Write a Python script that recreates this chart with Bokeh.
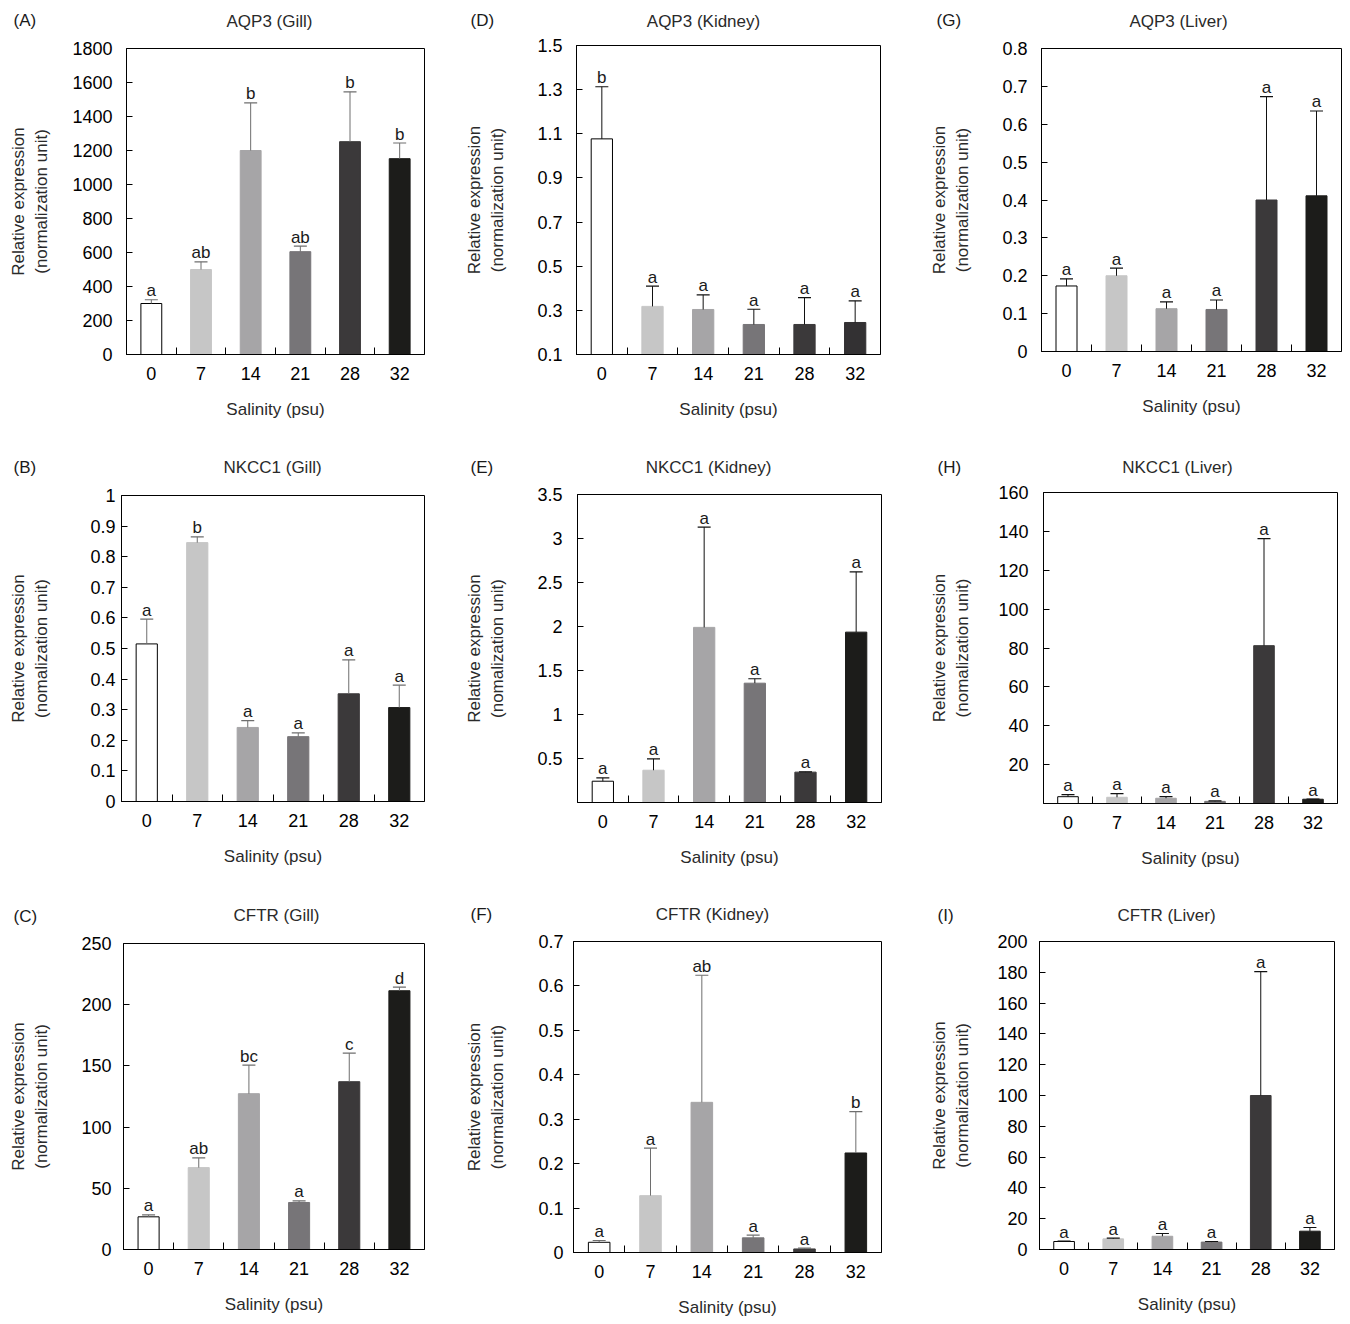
from bokeh.plotting import figure
from bokeh.layouts import row, column
from bokeh.models import (ColumnDataSource, Range1d, FixedTicker, Label, Whisker,
                          TeeHead, CustomJSTickFormatter)
from bokeh.embed import file_html
from bokeh.resources import INLINE
from bokeh.core.properties import value

# ---------------- data ----------------
salinity = ["0", "7", "14", "21", "28", "32"]

aqp3_gill_mean = [300, 500, 1200, 605, 1252, 1152]
aqp3_gill_err = [22, 45, 280, 33, 293, 92]
aqp3_gill_letters = ["a", "ab", "b", "ab", "b", "b"]

aqp3_kidney_mean = [1.077, 0.318, 0.304, 0.236, 0.236, 0.245]
aqp3_kidney_err = [0.236, 0.092, 0.066, 0.069, 0.122, 0.098]
aqp3_kidney_letters = ["b", "a", "a", "a", "a", "a"]

aqp3_liver_mean = [0.173, 0.200, 0.113, 0.111, 0.400, 0.411]
aqp3_liver_err = [0.019, 0.020, 0.018, 0.025, 0.273, 0.224]
aqp3_liver_letters = ["a", "a", "a", "a", "a", "a"]

nkcc1_gill_mean = [0.515, 0.846, 0.242, 0.212, 0.352, 0.307]
nkcc1_gill_err = [0.081, 0.019, 0.022, 0.012, 0.111, 0.073]
nkcc1_gill_letters = ["a", "b", "a", "a", "a", "a"]

nkcc1_kidney_mean = [0.242, 0.367, 1.99, 1.356, 0.345, 1.936]
nkcc1_kidney_err = [0.038, 0.129, 1.14, 0.05, 0.003, 0.685]
nkcc1_kidney_letters = ["a", "a", "a", "a", "a", "a"]

nkcc1_liver_mean = [3.5, 3.2, 2.7, 1.1, 81.2, 2.2]
nkcc1_liver_err = [1.1, 1.9, 0.8, 0.2, 55.1, 0.1]
nkcc1_liver_letters = ["a", "a", "a", "a", "a", "a"]

cftr_gill_mean = [26.7, 66.9, 127.3, 38.4, 137.1, 211.4]
cftr_gill_err = [1.6, 7.9, 23.4, 1.3, 23.4, 3.0]
cftr_gill_letters = ["a", "ab", "bc", "a", "c", "d"]

cftr_kidney_mean = [0.023, 0.128, 0.338, 0.033, 0.008, 0.224]
cftr_kidney_err = [0.004, 0.107, 0.286, 0.006, 0.002, 0.093]
cftr_kidney_letters = ["a", "a", "ab", "a", "a", "b"]

cftr_liver_mean = [5.2, 6.9, 8.6, 4.8, 100.0, 11.9]
cftr_liver_err = [0.2, 0.5, 1.8, 0.4, 80.4, 2.4]
cftr_liver_letters = ["a", "a", "a", "a", "a", "a"]

# y axis ticks
aqp3_gill_ticks = [0, 200, 400, 600, 800, 1000, 1200, 1400, 1600, 1800]
aqp3_kidney_ticks = [0.1, 0.3, 0.5, 0.7, 0.9, 1.1, 1.3, 1.5]
aqp3_liver_ticks = [0, 0.1, 0.2, 0.3, 0.4, 0.5, 0.6, 0.7, 0.8]
nkcc1_gill_ticks = [0, 0.1, 0.2, 0.3, 0.4, 0.5, 0.6, 0.7, 0.8, 0.9, 1]
nkcc1_kidney_ticks = [0.5, 1, 1.5, 2, 2.5, 3, 3.5]
nkcc1_liver_ticks = [20, 40, 60, 80, 100, 120, 140, 160]
cftr_gill_ticks = [0, 50, 100, 150, 200, 250]
cftr_kidney_ticks = [0, 0.1, 0.2, 0.3, 0.4, 0.5, 0.6, 0.7]
cftr_liver_ticks = [0, 20, 40, 60, 80, 100, 120, 140, 160, 180, 200]

# ---------------- styles / layout ----------------
FONT = "Liberation Sans"
FS = 17
TICK_FS = 18
BAR_COLORS = ["#ffffff", "#c6c6c6", "#a6a5a7", "#777578", "#3b393a", "#1c1c1a"]
GRAY_ERR = "#6e6e6e"
TEXT_C = "#2a2a2a"

COL_X = [0, 455, 912]
COL_W = [455, 457, 434]
ROW_Y = [0, 447, 895]
ROW_H = [447, 448, 425]
YLAB_X = [(18, 42), (475, 498), (940, 963)]
LABEL_H = 19             # height of one text slot in the side panel

panels = [
    dict(tag="(A)", title="AQP3 (Gill)", mean=aqp3_gill_mean, err=aqp3_gill_err,
         letters=aqp3_gill_letters, ticks=aqp3_gill_ticks, yr=(0, 1800),
         ylab2="(normalization unit)", r=0, c=0, frame=(126, 48, 424, 354),
         tagpos=(13, 20), titlepos=(269, 21), standoff=14, errc=GRAY_ERR),
    dict(tag="(D)", title="AQP3 (Kidney)", mean=aqp3_kidney_mean, err=aqp3_kidney_err,
         letters=aqp3_kidney_letters, ticks=aqp3_kidney_ticks, yr=(0.1, 1.5),
         ylab2="(normalization unit)", r=0, c=1, frame=(576, 45, 880, 354),
         tagpos=(470, 20), titlepos=(703, 21), standoff=14, errc="#111111",
         last_color="#333133"),
    dict(tag="(G)", title="AQP3 (Liver)", mean=aqp3_liver_mean, err=aqp3_liver_err,
         letters=aqp3_liver_letters, ticks=aqp3_liver_ticks, yr=(0, 0.8),
         ylab2="(normalization unit)", r=0, c=2, frame=(1041, 48, 1341, 351),
         tagpos=(936, 20), titlepos=(1178, 21), standoff=14, errc="#111111"),
    dict(tag="(B)", title="NKCC1 (Gill)", mean=nkcc1_gill_mean, err=nkcc1_gill_err,
         letters=nkcc1_gill_letters, ticks=nkcc1_gill_ticks, yr=(0, 1),
         ylab2="(nomalization unit)", r=1, c=0, frame=(121, 495, 424, 801),
         tagpos=(13, 467), titlepos=(272, 467), standoff=6, errc=GRAY_ERR),
    dict(tag="(E)", title="NKCC1 (Kidney)", mean=nkcc1_kidney_mean, err=nkcc1_kidney_err,
         letters=nkcc1_kidney_letters, ticks=nkcc1_kidney_ticks, yr=(0, 3.5),
         ylab2="(nomalization unit)", r=1, c=1, frame=(577, 494, 881, 802),
         tagpos=(470, 467), titlepos=(708, 467), standoff=15, errc="#111111"),
    dict(tag="(H)", title="NKCC1 (Liver)", mean=nkcc1_liver_mean, err=nkcc1_liver_err,
         letters=nkcc1_liver_letters, ticks=nkcc1_liver_ticks, yr=(0, 160),
         ylab2="(nomalization unit)", r=1, c=2, frame=(1043, 492, 1337, 803),
         tagpos=(937, 467), titlepos=(1177, 467), standoff=15, errc="#111111"),
    dict(tag="(C)", title="CFTR (Gill)", mean=cftr_gill_mean, err=cftr_gill_err,
         letters=cftr_gill_letters, ticks=cftr_gill_ticks, yr=(0, 250),
         ylab2="(normalization unit)", r=2, c=0, frame=(123, 943, 424, 1249),
         tagpos=(13, 916), titlepos=(276, 915), standoff=12, errc=GRAY_ERR),
    dict(tag="(F)", title="CFTR (Kidney)", mean=cftr_kidney_mean, err=cftr_kidney_err,
         letters=cftr_kidney_letters, ticks=cftr_kidney_ticks, yr=(0, 0.7),
         ylab2="(normalization unit)", r=2, c=1, frame=(573, 941, 881, 1252),
         tagpos=(470, 914), titlepos=(712, 914), standoff=10, errc=GRAY_ERR),
    dict(tag="(I)", title="CFTR (Liver)", mean=cftr_liver_mean, err=cftr_liver_err,
         letters=cftr_liver_letters, ticks=cftr_liver_ticks, yr=(0, 200),
         ylab2="(normalization unit)", r=2, c=2, frame=(1039, 941, 1334, 1249),
         tagpos=(937, 915), titlepos=(1166, 915), standoff=12, errc="#111111"),
]

CHAR_W = {".": 0.278, "-": 0.333}


def text_width(s, fs):
    return sum(CHAR_W.get(ch, 0.556) for ch in s) * fs


def make_panel(spec):
    n = len(salinity)
    L, T, R, B = spec["frame"]
    fx, fy = COL_X[spec["c"]], ROW_Y[spec["r"]]
    fw, fh = COL_W[spec["c"]], ROW_H[spec["r"]]
    p = figure(frame_width=R - L, frame_height=B - T,
               min_border_left=L - fx, min_border_top=T - fy,
               min_border_right=max(fx + fw - R, 0), min_border_bottom=max(fy + fh - B, 0),
               x_range=Range1d(0, n), y_range=Range1d(*spec["yr"]),
               output_backend="svg", toolbar_location=None, title=None)
    p.background_fill_color = "white"
    p.border_fill_color = "white"
    p.outline_line_color = "black"
    p.outline_line_width = 1
    p.xgrid.visible = False
    p.ygrid.visible = False

    centers = [i + 0.5 for i in range(n)]
    bounds = [float(i) for i in range(1, n)]
    colors = list(BAR_COLORS)
    if "last_color" in spec:
        colors[-1] = spec["last_color"]
    line_colors = ["black"] + colors[1:]
    upper = [m + e for m, e in zip(spec["mean"], spec["err"])]
    src = ColumnDataSource(dict(x=centers, top=spec["mean"], upper=upper,
                                letters=spec["letters"], fill=colors, line=line_colors))

    p.vbar(x="x", top="top", bottom=0, width=0.42, source=src,
           fill_color="fill", line_color="line", line_width=1)

    w = Whisker(base="x", lower="top", upper="upper", source=src, dimension="height",
                line_color=spec["errc"], line_width=1, lower_head=None,
                upper_head=TeeHead(size=13, line_color=spec["errc"], line_width=1.2),
                level="overlay")
    p.add_layout(w)

    p.text(x="x", y="upper", text="letters", source=src,
           text_font=value(FONT), text_font_size="%dpx" % FS, text_color="#1a1a1a",
           text_align="center", text_baseline="alphabetic", y_offset=-9)

    # x axis
    xa = p.xaxis[0]
    xa.ticker = FixedTicker(ticks=centers, minor_ticks=bounds)
    xa.major_label_overrides = {c: s for c, s in zip(centers, salinity)}
    xa.major_tick_in = 0
    xa.major_tick_out = 0
    xa.minor_tick_in = 7
    xa.minor_tick_out = 0
    xa.minor_tick_line_color = "black"
    xa.axis_line_color = "black"
    xa.major_label_standoff = 12
    xa.major_label_text_font = FONT
    xa.major_label_text_font_size = "%dpx" % TICK_FS
    xa.major_label_text_color = "black"
    xa.axis_label = "Salinity (psu)"
    xa.axis_label_text_font = FONT
    xa.axis_label_text_font_size = "%dpx" % FS
    xa.axis_label_text_font_style = "normal"
    xa.axis_label_text_color = TEXT_C
    xa.axis_label_standoff = 17

    # y axis
    ya = p.yaxis[0]
    ya.ticker = FixedTicker(ticks=spec["ticks"])
    ya.formatter = CustomJSTickFormatter(code="return String(Math.round(tick*1000)/1000);")
    ya.major_tick_in = 6
    ya.major_tick_out = 0
    ya.minor_tick_line_color = None
    ya.axis_line_color = "black"
    ya.major_label_standoff = spec["standoff"]
    ya.major_label_text_font = FONT
    ya.major_label_text_font_size = "%dpx" % TICK_FS
    ya.major_label_text_color = "black"
    ya.axis_label = "Relative expression\n" + spec["ylab2"]
    ya.axis_label_text_font = FONT
    ya.axis_label_text_font_size = "%dpx" % FS
    ya.axis_label_text_font_style = "normal"
    ya.axis_label_text_color = TEXT_C
    ya.axis_label_text_line_height = 1.24
    maxw = max(text_width("%g" % t, TICK_FS) for t in spec["ticks"])
    tick_left = L - spec["standoff"] - maxw
    box_right = YLAB_X[spec["c"]][1] + 0.7 * FS
    ya.axis_label_standoff = int(round(tick_left - box_right))

    # tag and title in the panel above the frame
    tx, ty = spec["tagpos"]
    p.add_layout(Label(x=tx - L, y=T - ty, x_units="screen", y_units="screen",
                       text=spec["tag"], text_font=FONT, text_font_size="%dpx" % FS,
                       text_color="#1a1a1a", text_align="left", text_baseline="middle"),
                 "above")
    hx, hy = spec["titlepos"]
    p.add_layout(Label(x=hx - L, y=(T - LABEL_H) - hy, x_units="screen", y_units="screen",
                       text=spec["title"], text_font=FONT, text_font_size="%dpx" % FS,
                       text_color=TEXT_C, text_align="center", text_baseline="middle"),
                 "above")
    return p


figs = [make_panel(s) for s in panels]
rows = []
for r in range(3):
    cells = [column(f, spacing=0) for f, s in zip(figs, panels) if s["r"] == r]
    rows.append(row(*cells, spacing=0))
layout = column(*rows, spacing=0)

open("out.html", "w").write(file_html(layout, INLINE))
